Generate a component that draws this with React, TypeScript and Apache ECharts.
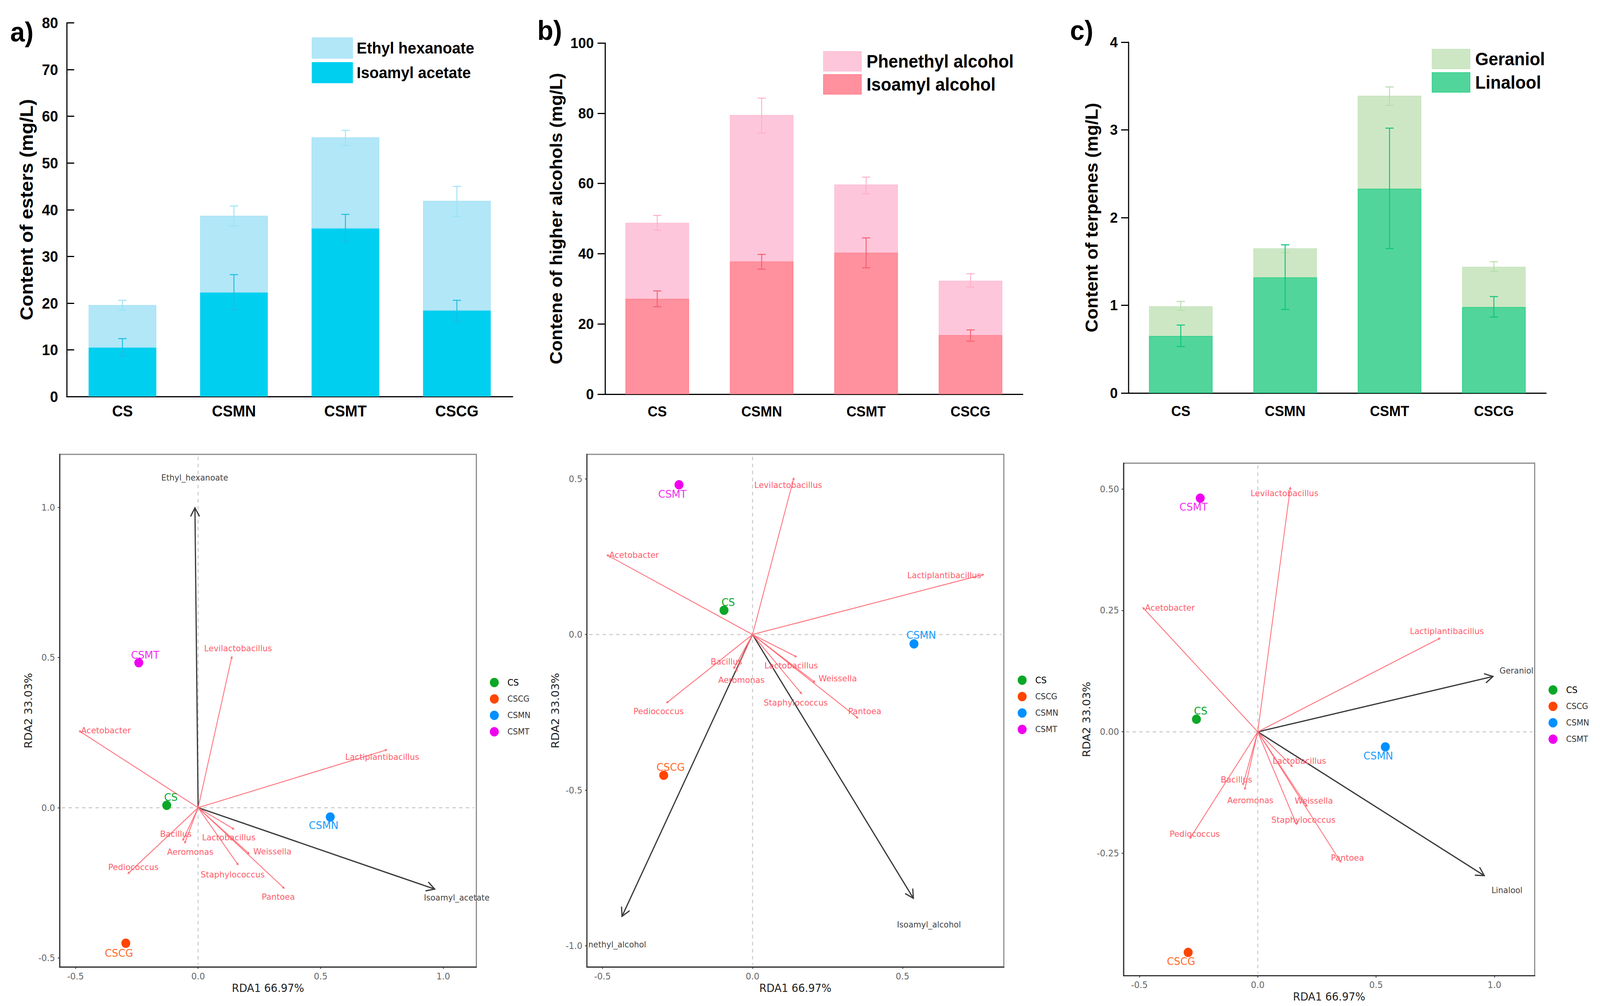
import React, { useEffect, useRef } from "react";
import * as echarts from "echarts";

const categories = ["CS", "CSMN", "CSMT", "CSCG"];

// Panel a: esters (stacked; upper series = increment over the lower one)
const isoamylAcetate = [10.5, 22.3, 36.0, 18.4];
const ethylHexanoate = [9.1, 16.4, 19.5, 23.5];
const isoamylAcetateErr = [[8.7, 12.4], [18.6, 26.1], [33.2, 39.0], [16.1, 20.6]];
const ethylHexanoateErr = [[18.5, 20.6], [36.5, 40.8], [53.7, 57.0], [38.5, 45.0]];

// Panel b: higher alcohols
const isoamylAlcohol = [27.2, 37.8, 40.3, 16.8];
const phenethylAlcohol = [21.6, 41.7, 19.4, 15.5];
const isoamylAlcoholErr = [[24.9, 29.4], [35.6, 39.8], [36.0, 44.5], [15.1, 18.3]];
const phenethylAlcoholErr = [[46.7, 50.9], [74.3, 84.3], [57.1, 61.8], [30.5, 34.3]];

// Panel c: terpenes
const linalool = [0.65, 1.32, 2.33, 0.98];
const geraniol = [0.34, 0.33, 1.06, 0.46];
const linaloolErr = [[0.53, 0.775], [0.953, 1.69], [1.647, 3.02], [0.866, 1.10]];
const geraniolErr = [[0.944, 1.044], [1.6, 1.69], [3.28, 3.49], [1.387, 1.497]];

// RDA biplots
const taxaNames = ["Acetobacter", "Levilactobacillus", "Lactiplantibacillus", "Lactobacillus", "Weissella", "Pantoea", "Staphylococcus", "Bacillus", "Aeromonas", "Pediococcus"];
const taxaTips = [[-0.486, 0.256], [0.138, 0.504], [0.771, 0.193], [0.147, -0.072], [0.209, -0.154], [0.352, -0.269], [0.164, -0.191], [-0.063, -0.110], [-0.055, -0.119], [-0.287, -0.220]];
const taxaLabelsD = [[-0.376, 0.257], [0.163, 0.531], [0.751, 0.169], [0.125, -0.099], [0.303, -0.145], [0.327, -0.296], [0.141, -0.222], [-0.091, -0.087], [-0.032, -0.147], [-0.264, -0.197]];
const taxaLabelsE = [[-0.395, 0.256], [0.119, 0.480], [0.639, 0.190], [0.129, -0.099], [0.284, -0.141], [0.374, -0.246], [0.144, -0.218], [-0.087, -0.087], [-0.037, -0.146], [-0.313, -0.246]];
const taxaLabelsF = [[-0.371, 0.256], [0.113, 0.491], [0.799, 0.207], [0.176, -0.060], [0.237, -0.142], [0.379, -0.259], [0.193, -0.181], [-0.090, -0.098], [-0.031, -0.141], [-0.266, -0.210]];

const groupNames = ["CS", "CSCG", "CSMN", "CSMT"];
const sitesD = [[-0.128, 0.008], [-0.295, -0.451], [0.539, -0.031], [-0.242, 0.4825]];
const sitesE = [[-0.095, 0.078], [-0.296, -0.452], [0.538, -0.030], [-0.245, 0.481]];
const sitesF = [[-0.259, 0.026], [-0.294, -0.454], [0.539, -0.031], [-0.243, 0.481]];
const siteLabelsD = [[-0.111, 0.035], [-0.323, -0.483], [0.512, -0.059], [-0.216, 0.509]];
const siteLabelsE = [[-0.081, 0.104], [-0.273, -0.425], [0.562, -0.002], [-0.267, 0.452]];
const siteLabelsF = [[-0.241, 0.043], [-0.324, -0.472], [0.509, -0.049], [-0.271, 0.463]];

const traitNamesD = ["Ethyl_hexanoate", "Isoamyl_acetate"];
const traitTipsD = [[-0.013, 0.998], [0.965, -0.271]];
const traitLabelsD = [[-0.014, 1.099], [1.055, -0.299]];
const traitNamesE = ["nethyl_alcohol", "Isoamyl_alcohol"];
const traitTipsE = [[-0.435, -0.905], [0.536, -0.847]];
const traitLabelsE = [[-0.451, -0.995], [0.588, -0.931]];
const traitNamesF = ["Geraniol", "Linalool"];
const traitTipsF = [[0.994, 0.114], [0.957, -0.296]];
const traitLabelsF = [[1.093, 0.126], [1.053, -0.326]];

const xTitle = "RDA1 66.97%";
const yTitle = "RDA2 33.03%";

const PAGE_W = 4277;
const PAGE_H = 2575;
const SANS = "Liberation Sans";
const DEJA = "DejaVu Sans";
const groupColors = ["#0BA727", "#FF4500", "#0090FF", "#F000F0"];
const siteLabelColors = ["#0BA727", "#FF6A2A", "#1C9CFF", "#F030F0"];
const RED = "#FF6E78";
const REDTEXT = "#FF5C6A";

const grids: any[] = [];
const xAxes: any[] = [];
const yAxes: any[] = [];
const series: any[] = [];
const legends: any[] = [];
const graphics: any[] = [];

function errorSeries(g: number, rows: number[][], color: string, z: number) {
  series.push({
    type: "custom",
    xAxisIndex: g,
    yAxisIndex: g,
    silent: true,
    z,
    encode: { x: 0, y: [1, 2] },
    data: rows.map((r, i) => [i, r[0], r[1]]),
    renderItem: (_: any, api: any) => {
      const a = api.coord([api.value(0), api.value(1)]);
      const b = api.coord([api.value(0), api.value(2)]);
      const style = { stroke: color, lineWidth: 2.5 };
      const cap = 11;
      return {
        type: "group",
        children: [
          { type: "line", shape: { x1: a[0], y1: a[1], x2: b[0], y2: b[1] }, style },
          { type: "line", shape: { x1: a[0] - cap, y1: a[1], x2: a[0] + cap, y2: a[1] }, style },
          { type: "line", shape: { x1: b[0] - cap, y1: b[1], x2: b[0] + cap, y2: b[1] }, style },
        ],
      };
    },
  });
}

function barPanel(o: any) {
  const g = grids.length;
  grids.push({ left: o.left, top: o.top, width: o.width, height: o.height, containLabel: false });
  xAxes.push({
    type: "category",
    gridIndex: g,
    data: categories,
    axisLine: { lineStyle: { color: "#000", width: 3 } },
    axisTick: { alignWithLabel: true, inside: o.inside, length: o.xTick, lineStyle: { color: "#000", width: 3 } },
    axisLabel: { fontFamily: SANS, fontWeight: "bold", fontSize: o.catSize, color: "#000", margin: o.catMargin },
    splitLine: { show: false },
  });
  yAxes.push({
    type: "value",
    gridIndex: g,
    min: 0,
    max: o.max,
    interval: o.interval,
    name: o.title,
    nameLocation: "middle",
    nameGap: o.nameGap,
    nameRotate: 90,
    nameTextStyle: { fontFamily: SANS, fontWeight: "bold", fontSize: o.titleSize, color: "#000" },
    axisLine: { show: true, lineStyle: { color: "#000", width: 3 } },
    axisTick: { show: true, inside: o.inside, length: 20, lineStyle: { color: "#000", width: 3 } },
    axisLabel: { fontFamily: SANS, fontWeight: "bold", fontSize: o.tickSize, color: "#000", margin: o.tickMargin },
    splitLine: { show: false },
  });
  series.push({
    type: "bar", name: o.lowName, xAxisIndex: g, yAxisIndex: g, stack: "s" + g, barWidth: o.barWidth,
    data: o.low, itemStyle: { color: o.lowColor, borderColor: o.lowBorder, borderWidth: 2 }, z: 2,
  });
  series.push({
    type: "bar", name: o.upName, xAxisIndex: g, yAxisIndex: g, stack: "s" + g, barWidth: o.barWidth,
    data: o.up, itemStyle: { color: o.upColor, borderColor: o.upBorder, borderWidth: 2 }, z: 2,
  });
  errorSeries(g, o.upErr, o.upErrColor, 3);
  errorSeries(g, o.lowErr, o.lowErrColor, 3);
  legends.push({
    orient: "vertical", left: o.legLeft, top: o.legTop, itemWidth: o.legW, itemHeight: o.legH, itemGap: o.legGap,
    selectedMode: false, icon: "rect", data: [o.upName, o.lowName],
    textStyle: { fontFamily: SANS, fontWeight: "bold", fontSize: o.legSize, color: "#000", padding: [0, 0, 0, o.legPad] },
  });
  graphics.push({
    type: "text", x: o.tagX, y: o.tagY,
    style: { text: o.tag, fontFamily: SANS, fontWeight: "bold", fontSize: 70, fill: "#000", align: "left", verticalAlign: "middle" },
  });
}

function biplot(o: any) {
  const g = grids.length;
  grids.push({ show: true, left: o.left, top: o.top, width: o.width, height: o.height, borderColor: "#8a8a8a", borderWidth: 3, backgroundColor: "#fff", containLabel: false });
  xAxes.push({
    type: "value", gridIndex: g, min: o.xMin, max: o.xMax,
    name: xTitle, nameLocation: "middle", nameGap: 36,
    nameTextStyle: { fontFamily: DEJA, fontSize: 28, color: "#222" },
    axisLine: { show: true, onZero: false, lineStyle: { color: "#333", width: 3 } },
    axisTick: { show: true, length: 5, customValues: o.xTicks, lineStyle: { color: "#333", width: 2 } },
    axisLabel: { fontFamily: DEJA, fontSize: 23, color: "#666", margin: 12, customValues: o.xTicks, formatter: (v: number) => v.toFixed(1) },
    splitLine: { show: false },
  });
  yAxes.push({
    type: "value", gridIndex: g, min: o.yMin, max: o.yMax,
    name: yTitle, nameLocation: "middle", nameGap: o.yGap, nameRotate: 90,
    nameTextStyle: { fontFamily: DEJA, fontSize: 28, color: "#222" },
    axisLine: { show: true, onZero: false, lineStyle: { color: "#333", width: 3 } },
    axisTick: { show: true, length: 5, customValues: o.yTicks, lineStyle: { color: "#333", width: 2 } },
    axisLabel: { fontFamily: DEJA, fontSize: 23, color: "#666", margin: 12, customValues: o.yTicks, formatter: (v: number) => v.toFixed(o.yDigits) },
    splitLine: { show: false },
  });
  const common = { xAxisIndex: g, yAxisIndex: g, silent: true };
  // dashed zero lines
  series.push({
    ...common, type: "custom", z: 2, data: [[0, 0]], encode: { x: 0, y: 1 },
    renderItem: (params: any, api: any) => {
      const c = api.coord([0, 0]);
      const r = params.coordSys;
      const style = { stroke: "#cfcfcf", lineWidth: 3, lineDash: [9, 9] };
      return {
        type: "group",
        children: [
          { type: "line", shape: { x1: r.x + 6, y1: c[1], x2: r.x + r.width - 6, y2: c[1] }, style },
          { type: "line", shape: { x1: c[0], y1: r.y + 6, x2: c[0], y2: r.y + r.height - 6 }, style },
        ],
      };
    },
  });
  const arrows = (tips: number[][], color: string, width: number, head: number, filled: boolean, z: number) => {
    series.push({
      ...common, type: "custom", z, data: tips, encode: { x: 0, y: 1 },
      renderItem: (_: any, api: any) => {
        const a = api.coord([0, 0]);
        const t = api.coord([api.value(0), api.value(1)]);
        const ang = Math.atan2(t[1] - a[1], t[0] - a[0]);
        const spread = 0.5;
        const p1 = [t[0] - head * Math.cos(ang - spread), t[1] - head * Math.sin(ang - spread)];
        const p2 = [t[0] - head * Math.cos(ang + spread), t[1] - head * Math.sin(ang + spread)];
        return {
          type: "group",
          children: [
            { type: "line", shape: { x1: a[0], y1: a[1], x2: t[0], y2: t[1] }, style: { stroke: color, lineWidth: width } },
            filled
              ? { type: "polygon", shape: { points: [p1, t, p2] }, style: { fill: color, stroke: color, lineWidth: 1 } }
              : { type: "polyline", shape: { points: [p1, t, p2] }, style: { stroke: color, lineWidth: width, fill: "none" } },
          ],
        };
      },
    });
  };
  arrows(o.traitTips, "#3a3a3a", 3.2, 25, false, 3);
  arrows(taxaTips, RED, 2.2, 6, true, 4);
  groupNames.forEach((name, i) => {
    series.push({
      ...common, type: "scatter", name, z: 5, symbol: "circle", symbolSize: 24,
      data: [o.sites[i]], itemStyle: { color: groupColors[i], opacity: 1 },
    });
  });
  const texts = (pos: number[][], names: string[], colors: string[] | string, size: number, z: number) => {
    series.push({
      ...common, type: "custom", z, data: pos, encode: { x: 0, y: 1 },
      renderItem: (params: any, api: any) => {
        const p = api.coord([api.value(0), api.value(1)]);
        return {
          type: "text", x: p[0], y: p[1],
          style: {
            text: names[params.dataIndex],
            fill: Array.isArray(colors) ? colors[params.dataIndex] : colors,
            fontFamily: DEJA, fontSize: size, align: "center", verticalAlign: "middle",
          },
        };
      },
    });
  };
  texts(o.traitLabels, o.traitNames, "#444", 21.5, 6);
  texts(o.taxaLabels, taxaNames, REDTEXT, 22, 6);
  texts(o.siteLabels, groupNames, siteLabelColors, 27, 6);
  legends.push({
    orient: "vertical", left: o.legLeft, top: o.legTop, itemWidth: 60, itemHeight: 24, itemGap: 18,
    selectedMode: false, icon: "circle",
    data: groupNames.map((name, i) => ({
      name,
      textStyle: i === 0 ? { color: "#000", fontFamily: DEJA, fontSize: 23 } : { color: "#333", fontFamily: DEJA, fontSize: 21 },
    })),
    textStyle: { fontFamily: DEJA, fontSize: 21, color: "#333" },
  });
}

barPanel({
  left: 170, top: 50.5, width: 1192, height: 956.5, max: 80, interval: 10, inside: true, xTick: 19,
  title: "Content of esters (mg/L)", nameGap: 83, titleSize: 49, tickSize: 39, tickMargin: 23, catSize: 40, catMargin: 17, barWidth: 181,
  lowName: "Isoamyl acetate", upName: "Ethyl hexanoate", low: isoamylAcetate, up: ethylHexanoate, lowErr: isoamylAcetateErr, upErr: ethylHexanoateErr,
  lowColor: "#00CFF0", lowBorder: "#00CFF0", upColor: "#B2E7F8", upBorder: "#A9E4F6", lowErrColor: "#1ABDE0", upErrColor: "#9BE3F5",
  legLeft: 820, legTop: 83, legW: 108, legH: 52, legGap: 9, legSize: 41, legPad: 6, tag: "a)", tagX: 19, tagY: 74,
});
barPanel({
  left: 1609, top: 102, width: 1116.5, height: 899, max: 100, interval: 20, inside: false, xTick: 15,
  title: "Contene of higher alcohols (mg/L)", nameGap: 108, titleSize: 46, tickSize: 37.5, tickMargin: 30, catSize: 37, catMargin: 26, barWidth: 170,
  lowName: "Isoamyl alcohol", upName: "Phenethyl alcohol", low: isoamylAlcohol, up: phenethylAlcohol, lowErr: isoamylAlcoholErr, upErr: phenethylAlcoholErr,
  lowColor: "#FF919E", lowBorder: "#FF808F", upColor: "#FEC6DA", upBorder: "#FEBFD4", lowErrColor: "#F5606F", upErrColor: "#FFB0C6",
  legLeft: 2187, legTop: 118, legW: 101, legH: 50, legGap: 7, legSize: 46, legPad: 9, tag: "b)", tagX: 1428, tagY: 70,
});
barPanel({
  left: 3008.5, top: 100, width: 1116, height: 898, max: 4, interval: 1, inside: false, xTick: 15,
  title: "Content of terpenes (mg/L)", nameGap: 76, titleSize: 46, tickSize: 37.5, tickMargin: 29, catSize: 37, catMargin: 28, barWidth: 170,
  lowName: "Linalool", upName: "Geraniol", low: linalool, up: geraniol, lowErr: linaloolErr, upErr: geraniolErr,
  lowColor: "#52D59A", lowBorder: "#2FD08C", upColor: "#CDE7C5", upBorder: "#C8E5BF", lowErrColor: "#0DC57C", upErrColor: "#B5DEAC",
  legLeft: 3814, legTop: 112, legW: 101, legH: 50, legGap: 8, legSize: 46, legPad: 9, tag: "c)", tagX: 2852, tagY: 70,
});

biplot({
  left: 151, top: 1155, width: 1114, height: 1312, xMin: -0.565, xMax: 1.135, yMin: -0.53, yMax: 1.176,
  xTicks: [-0.5, 0, 0.5, 1], yTicks: [-0.5, 0, 0.5, 1], yDigits: 1, yGap: 69,
  sites: sitesD, siteLabels: siteLabelsD, taxaLabels: taxaLabelsD, traitNames: traitNamesD, traitTips: traitTipsD, traitLabels: traitLabelsD,
  legLeft: 1296, legTop: 1722,
});
biplot({
  left: 1560.5, top: 1155, width: 1114.5, height: 1312, xMin: -0.552, xMax: 0.8375, yMin: -1.0675, yMax: 0.5786,
  xTicks: [-0.5, 0, 0.5], yTicks: [-1, -0.5, 0, 0.5], yDigits: 1, yGap: 70,
  sites: sitesE, siteLabels: siteLabelsE, taxaLabels: taxaLabelsE, traitNames: traitNamesE, traitTips: traitTipsE, traitLabels: traitLabelsE,
  legLeft: 2707, legTop: 1716,
});
biplot({
  left: 2995, top: 1177.5, width: 1099, height: 1312, xMin: -0.567, xMax: 1.17, yMin: -0.502, yMax: 0.553,
  xTicks: [-0.5, 0, 0.5, 1], yTicks: [-0.25, 0, 0.25, 0.5], yDigits: 2, yGap: 85,
  sites: sitesF, siteLabels: siteLabelsF, taxaLabels: taxaLabelsF, traitNames: traitNamesF, traitTips: traitTipsF, traitLabels: traitLabelsF,
  legLeft: 4126, legTop: 1741,
});

export default function App() {
  const ref = useRef<HTMLDivElement>(null);
  // The actual window can be narrower than the nominal 4277 px (4096 px was measured).
  // The layout stays in 4277x2575 units and is fitted to whatever window is really there.
  const sx = Math.min(1, window.innerWidth / PAGE_W);
  const sy = Math.min(1, window.innerHeight / PAGE_H);
  useEffect(() => {
    const chart = echarts.init(ref.current!, undefined, { renderer: "svg", width: PAGE_W, height: PAGE_H });
    chart.setOption({
      animation: false,
      backgroundColor: "#fff",
      tooltip: { show: false },
      grid: grids,
      xAxis: xAxes,
      yAxis: yAxes,
      legend: legends,
      series,
      graphic: graphics,
    });
    return () => chart.dispose();
  }, []);
  return (
    <div
      ref={ref}
      style={{
        position: "fixed", left: 0, top: 0, width: PAGE_W, height: PAGE_H,
        transform: `scale(${sx}, ${sy})`, transformOrigin: "0 0",
      }}
    />
  );
}
